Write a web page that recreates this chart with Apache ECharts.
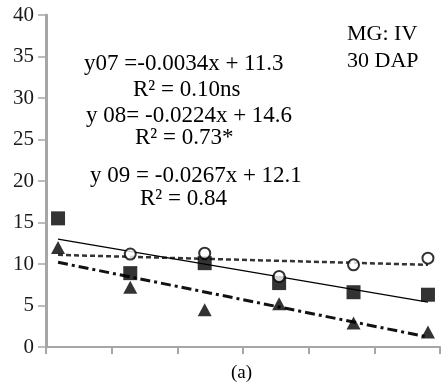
<!DOCTYPE html>
<html>
<head>
<meta charset="utf-8">
<script src="https://cdn.jsdelivr.net/npm/echarts@6/dist/echarts.min.js"></script>
<style>
  html, body { margin: 0; padding: 0; background: #fff; }
  #chart { width: 441px; height: 389px; }
</style>
</head>
<body>
<div id="chart"></div>
<script>
// x positions of the six sampling points (axis has no labels)
const xPos = [71, 137, 205, 273, 341, 409]

// open circles, year 07 (first one hidden behind the other markers)
const y07 = [null, 11.2, 11.3, 8.5, 9.9, 10.7]
// filled squares, year 08
const y08 = [15.5, 8.9, 10.1, 7.7, 6.6, 6.3]
// filled triangles, year 09
const y09 = [12.0, 7.2, 4.5, 5.2, 2.9, 1.8]

// trend line end points
const trend07 = [[71, 11.1], [409, 9.9]]
const trend08 = [[71, 13.0], [409, 5.4]]
const trend09 = [[71, 10.2], [409, 1.2]]

const yTicks = [0, 5, 10, 15, 20, 25, 30, 35, 40]

const serif = '"Liberation Serif", "DejaVu Serif", serif'

const pts = (ys) => xPos.map((x, i) => [x, ys[i]])

const chart = echarts.init(document.getElementById('chart'), null, { renderer: 'canvas' })

// text placed by its vertical centre
const txt = (left, cy, text, size) => ({
  type: 'text',
  left: left,
  top: cy - size / 2,
  style: { text: text, font: size + 'px ' + serif, fill: '#000' },
})

chart.setOption({
  animation: false,
  backgroundColor: '#fff',
  grid: { left: 46, right: 1, top: 15, bottom: 42 },
  xAxis: {
    type: 'value',
    min: 60,
    max: 420,
    interval: 60,
    axisLine: { lineStyle: { color: '#a6a6a6', width: 2 } },
    axisTick: { show: true, length: 7, lineStyle: { color: '#a6a6a6', width: 2 } },
    axisLabel: { show: false },
    splitLine: { show: false },
  },
  yAxis: {
    type: 'value',
    min: yTicks[0],
    max: yTicks[yTicks.length - 1],
    interval: 5,
    axisLine: { show: true, lineStyle: { color: '#a6a6a6', width: 3 } },
    axisTick: { show: true, length: 8, lineStyle: { color: '#a6a6a6', width: 1.5 } },
    axisLabel: { color: '#1a1a1a', fontFamily: serif, fontSize: 21, margin: 12 },
    splitLine: { show: false },
  },
  series: [
    {
      type: 'line', data: trend07, symbol: 'none', z: 2,
      lineStyle: { color: '#333', width: 2.5, type: [5, 3] },
    },
    {
      type: 'line', data: trend08, symbol: 'none', z: 2,
      lineStyle: { color: '#000', width: 1.2 },
    },
    {
      type: 'line', data: trend09, symbol: 'none', z: 2,
      lineStyle: { color: '#111', width: 3, type: [10, 4, 3, 4] },
    },
    {
      type: 'scatter', data: pts(y08), symbol: 'rect', symbolSize: 14, z: 3,
      itemStyle: { color: '#000' },
    },
    {
      type: 'scatter', data: pts(y09), symbol: 'triangle', symbolSize: [14, 13], z: 4,
      itemStyle: { color: '#000' },
    },
    {
      type: 'scatter', data: pts(y07), symbol: 'circle', symbolSize: 11, z: 5,
      itemStyle: { color: '#fff', borderColor: '#000', borderWidth: 2 },
    },
  ],
  graphic: [
    txt(84, 64, 'y07 =-0.0034x + 11.3', 23),
    txt(133, 90, 'R² = 0.10ns', 23),
    txt(86, 116, 'y 08= -0.0224x + 14.6', 23),
    txt(135, 138, 'R² = 0.73*', 23),
    txt(90, 176, 'y 09 = -0.0267x + 12.1', 23),
    txt(140, 199, 'R² = 0.84', 23),
    txt(347, 34, 'MG: IV', 22),
    txt(347, 61, '30 DAP', 22),
    txt(231, 373, '(a)', 19),
  ],
})
</script>
</body>
</html>
